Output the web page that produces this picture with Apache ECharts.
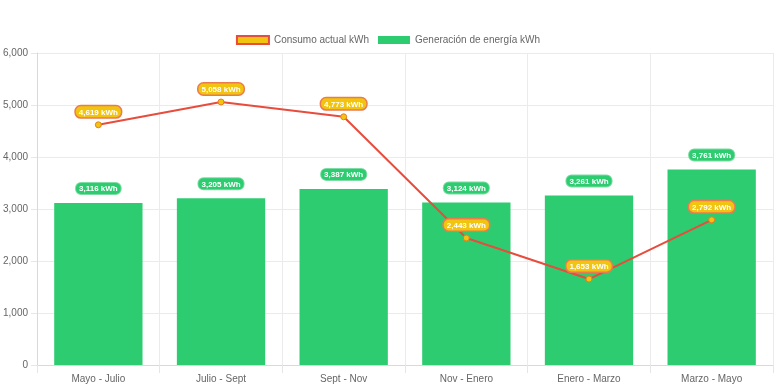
<!DOCTYPE html>
<html><head><meta charset="utf-8">
<script src="https://cdn.jsdelivr.net/npm/echarts@6/dist/echarts.min.js"></script>
<style>html,body{margin:0;padding:0;background:#fff}#c{width:776px;height:388px}</style>
</head><body><div id="c"></div>
<script>
const categories = ['Mayo - Julio','Julio - Sept','Sept - Nov','Nov - Enero','Enero - Marzo','Marzo - Mayo'];
const consumo = [4619, 5058, 4773, 2443, 1653, 2792];
const generacion = [3116, 3205, 3387, 3124, 3261, 3761];
const yTicks = {min: 0, max: 6000, interval: 1000};

const fmt = v => v.toLocaleString('en-US');
const font = 'Liberation Sans, Arial, sans-serif';
const chart = echarts.init(document.getElementById('c'), null, {renderer:'canvas'});
chart.setOption({
  animation: false,
  textStyle: {fontFamily: font},
  grid: {left: 35, right: 3, top: 53, bottom: 23, containLabel: false},
  legend: {
    top: 30, left: 'center', itemWidth: 32, itemHeight: 8, itemGap: 9,
    textStyle: {color: '#666', fontSize: 10, fontFamily: font},
    data: [
      {name: 'Consumo actual kWh', icon: 'rect', itemStyle: {color: '#f1c40f', borderColor: '#e74c3c', borderWidth: 2}},
      {name: 'Generación de energía kWh', icon: 'rect', itemStyle: {color: '#2ecc71', borderWidth: 0}}
    ]
  },
  xAxis: {
    type: 'category', data: categories, boundaryGap: true,
    axisLine: {show: true, lineStyle: {color: '#d9d9d9'}},
    axisTick: {show: true, length: 8, lineStyle: {color: '#e6e6e6'}},
    splitLine: {show: true, lineStyle: {color: '#ebebeb'}},
    axisLabel: {color: '#666', fontSize: 10, margin: 9, fontFamily: font}
  },
  yAxis: {
    type: 'value', min: yTicks.min, max: yTicks.max, interval: yTicks.interval,
    axisLine: {show: true, lineStyle: {color: '#d9d9d9'}},
    axisTick: {show: true, length: 6, lineStyle: {color: '#e6e6e6'}},
    splitLine: {show: true, lineStyle: {color: '#ebebeb'}},
    axisLabel: {color: '#666', fontSize: 10, margin: 9, formatter: v => fmt(v), fontFamily: font}
  },
  series: [
    {
      name: 'Generación de energía kWh', type: 'bar', data: generacion,
      barWidth: '72%', z: 2,
      itemStyle: {color: '#2ecc71'},
      label: {
        show: true, position: 'top', distance: 9,
        formatter: p => fmt(p.value) + ' kWh',
        color: '#fff', fontWeight: 'bold', fontSize: 8, lineHeight: 8, fontFamily: font,
        backgroundColor: '#2ecc71', borderColor: '#7fdca4', borderWidth: 1,
        borderRadius: 5, padding: [2, 3, 1, 3]
      }
    },
    {
      name: 'Consumo actual kWh', type: 'line', data: consumo, z: 5,
      symbol: 'circle', symbolSize: 6,
      lineStyle: {color: '#e74c3c', width: 2},
      itemStyle: {color: '#f1c40f', borderColor: '#e67e22', borderWidth: 1},
      label: {
        show: true, position: 'top', distance: 4,
        formatter: p => fmt(p.value) + ' kWh',
        color: '#fff', fontWeight: 'bold', fontSize: 8, lineHeight: 8, fontFamily: font,
        backgroundColor: '#f1c40f', borderColor: '#ec7a50', borderWidth: 1.5,
        borderRadius: 5, padding: [2, 3, 1, 3]
      }
    }
  ]
});
</script></body></html>
